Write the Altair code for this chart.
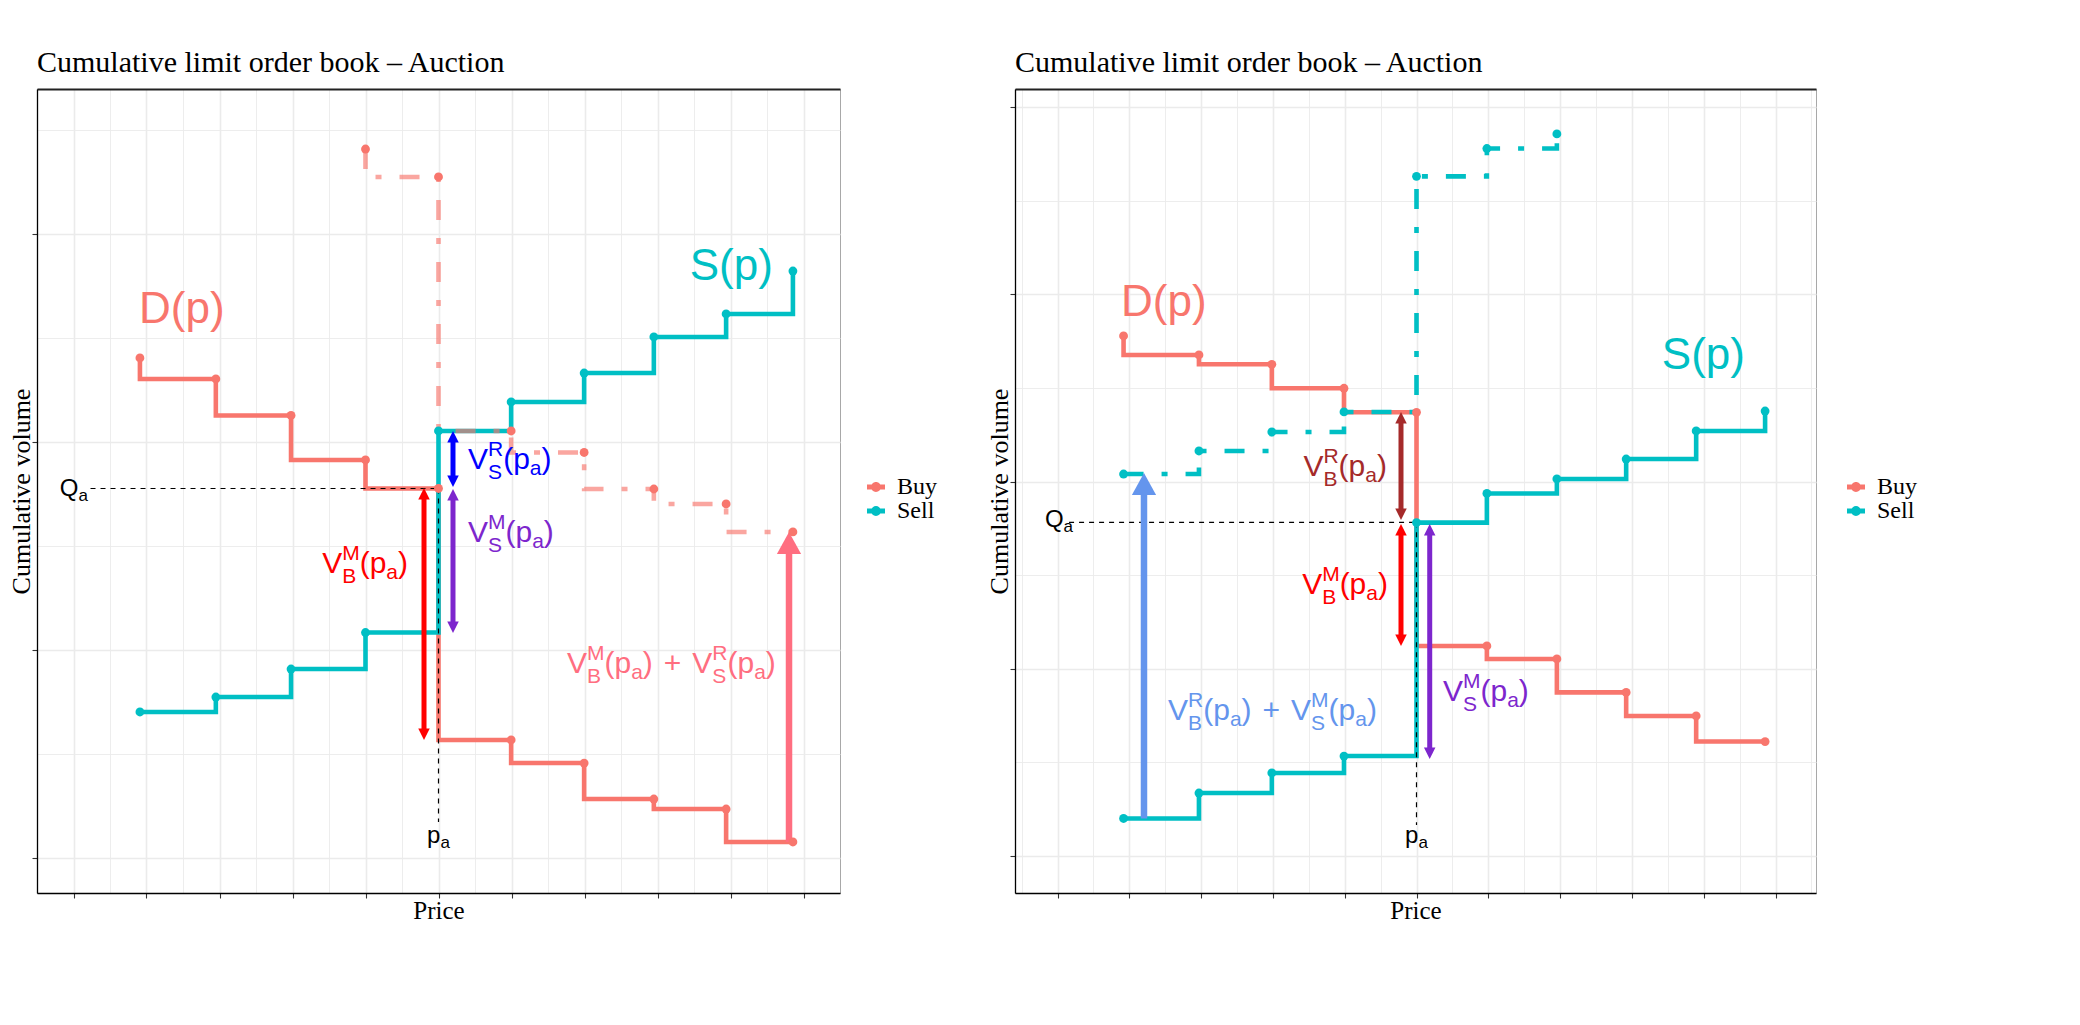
import altair as alt
import pandas as pd

SAL = "#F8766D"
TEAL = "#00BFC4"
SERIF = "Liberation Serif"
SANS = "Liberation Sans"

# ---------------- left panel data ----------------
L_PRICE = [2.82, 4.90, 6.96, 9.00, 11.00, 12.99, 14.99, 16.90, 18.88, 20.71]
L_BUY = [4.808, 4.606, 4.255, 3.827, 3.553, 1.135, 0.913, 0.567, 0.471, 0.154]
L_SELL = [1.404, 1.548, 1.817, 2.168, 4.106, 4.385, 4.663, 5.010, 5.231, 5.644]
L_DD_PRICE = [9.00, 11.00, 12.99, 14.99, 16.90, 18.88, 20.71]
L_DD = [6.817, 6.548, 4.106, 3.899, 3.548, 3.404, 3.135]
L_QA, L_PA = 3.553, 11.0
L_ARROW_X = [10.603, 11.397, 11.397, 20.603]
L_ARROW_FROM = [1.135, 3.567, 2.163, 0.154]
L_ARROW_TO = [3.558, 4.106, 3.548, 3.135]
L_ARROW_BOTH = [True, True, True, False]
L_ARROW_BIG = [False, False, False, True]
L_ARROW_COL = ["#FF0000", "#0000FF", "#7D26CD", "#FF6E80"]

# ---------------- right panel data ----------------
R_PRICE = [2.84, 4.94, 6.97, 8.98, 11.00, 12.96, 14.91, 16.84, 18.79, 20.71]
R_BUY = [5.556, 5.353, 5.253, 4.997, 4.740, 2.244, 2.105, 1.748, 1.496, 1.223]
R_SELL = [0.401, 0.673, 0.887, 1.068, 3.562, 3.873, 4.028, 4.241, 4.541, 4.754]
R_DD_PRICE = [2.84, 4.94, 6.97, 8.98, 11.00, 12.96, 14.91]
R_DD = [4.081, 4.327, 4.530, 4.744, 7.261, 7.558, 7.714]
R_QA, R_PA = 3.565, 11.0
R_ARROW_X = [10.568, 10.568, 11.368, 3.409]
R_ARROW_FROM = [3.590, 2.244, 1.036, 0.401]
R_ARROW_TO = [4.744, 3.547, 3.547, 4.092]
R_ARROW_BOTH = [True, True, True, False]
R_ARROW_BIG = [False, False, False, True]
R_ARROW_COL = ["#A52A2A", "#FF0000", "#7D26CD", "#6495ED"]

TITLE = "Cumulative limit order book \u2013 Auction"

VBM = [("b", "V"), ("ss", "M", "B"), ("b", "(p"), ("s", "a"), ("b", ")")]
VBR = [("b", "V"), ("ss", "R", "B"), ("b", "(p"), ("s", "a"), ("b", ")")]
VSM = [("b", "V"), ("ss", "M", "S"), ("b", "(p"), ("s", "a"), ("b", ")")]
VSR = [("b", "V"), ("ss", "R", "S"), ("b", "(p"), ("s", "a"), ("b", ")")]
PLUS = [("g", 11), ("b", "+"), ("g", 11)]

L_LABELS = [
    (2.795, 5.144, "left", SAL, [("b", "D(p)")], 44),
    (20.16, 5.558, "right", TEAL, [("b", "S(p)")], 44),
    (1.397, 3.481, "right", "black", [("b", "Q"), ("s", "a")], 24),
    (11.0, 0.144, "center", "black", [("b", "p"), ("s", "a")], 24),
    (10.164, 2.740, "right", "#FF0000", VBM, 30),
    (11.808, 3.740, "left", "#0000FF", VSR, 30),
    (11.808, 3.041, "left", "#7D26CD", VSM, 30),
    (14.52, 1.779, "left", "#FF6E80", VBM + PLUS + VSR, 30),
]
R_LABELS = [
    (2.769, 5.769, "left", SAL, [("b", "D(p)")], 44),
    (20.15, 5.203, "right", TEAL, [("b", "S(p)")], 44),
    (1.432, 3.515, "right", "black", [("b", "Q"), ("s", "a")], 24),
    (11.0, 0.139, "center", "black", [("b", "p"), ("s", "a")], 24),
    (10.177, 4.060, "right", "#A52A2A", VBR, 30),
    (10.205, 2.799, "right", "#FF0000", VBM, 30),
    (11.738, 1.656, "left", "#7D26CD", VSM, 30),
    (4.08, 1.453, "left", "#6495ED", VBR + PLUS + VSM, 30),
]

LEFT = dict(price=L_PRICE, buy=L_BUY, sell=L_SELL, dd_price=L_DD_PRICE, dd=L_DD,
            dd_side="Buy", dd_interp="step-before", dd_color=SAL, dd_opacity=0.65,
            qa=L_QA, pa=L_PA, qa_x0=1.466, pa_y0=0.346,
            ax=L_ARROW_X, af=L_ARROW_FROM, at=L_ARROW_TO, ab=L_ARROW_BOTH, abig=L_ARROW_BIG, ac=L_ARROW_COL,
            labels=L_LABELS, xdom=[0, 22], ydom=[-0.3365, 7.394], w=803, h=804,
            xgrid=list(range(1, 22)), ygrid=list(range(0, 8)), legx=827, legy=386)
RIGHT = dict(price=R_PRICE, buy=R_BUY, sell=R_SELL, dd_price=R_DD_PRICE, dd=R_DD,
             dd_side="Sell", dd_interp="step-after", dd_color=TEAL, dd_opacity=1.0,
             qa=R_QA, pa=R_PA, qa_x0=1.322, pa_y0=0.331,
             ax=R_ARROW_X, af=R_ARROW_FROM, at=R_ARROW_TO, ab=R_ARROW_BOTH, abig=R_ARROW_BIG, ac=R_ARROW_COL,
             labels=R_LABELS, xdom=[-0.184, 22.128], ydom=[-0.395, 8.194], w=801, h=804,
             xgrid=list(range(0, 23)), ygrid=list(range(0, 9)), legx=829, legy=386)

WID = {"V": .667, "M": .833, "B": .667, "S": .667, "R": .722, "(": .333, "p": .556,
       "a": .556, ")": .333, "+": .584, " ": .278, "Q": .778, "D": .722}


def tw(s, size):
    return sum(WID[c] for c in s) * size


def compose(parts, F):
    f = round(F * 0.7)
    frags, x = [], 0.0
    for p in parts:
        if p[0] == "b":
            frags.append((x, 0.0, p[1], F))
            x += tw(p[1], F)
        elif p[0] == "ss":
            frags.append((x, -0.44 * F, p[1], f))
            frags.append((x, 0.34 * F, p[2], f))
            x += max(tw(p[1], f), tw(p[2], f))
        elif p[0] == "g":
            x += p[1]
        else:
            frags.append((x, 0.2 * F, p[1], f))
            x += tw(p[1], f)
    return frags, x


UP_S = "M0,0 L0.5,1 L-0.5,1 Z"
DN_S = "M0,0 L0.5,-1 L-0.5,-1 Z"
UP_B = "M0,0 L0.55,1 L-0.55,1 Z"
DN_B = "M0,0 L0.55,-1 L-0.55,-1 Z"
LEG = ("M-1,-0.27 L1,-0.27 L1,0.27 L-1,0.27 Z "
       "M0.55,0 A0.55,0.55 0 1,1 -0.55,0 A0.55,0.55 0 1,1 0.55,0 Z")


def make_panel(P):
    xs = alt.Scale(domain=P["xdom"], nice=False, zero=False)
    ys = alt.Scale(domain=P["ydom"], nice=False, zero=False)
    ppx = P["w"] / (P["xdom"][1] - P["xdom"][0])
    ppy = P["h"] / (P["ydom"][1] - P["ydom"][0])

    def X(f="x", axis=None):
        return alt.X(f"{f}:Q", scale=xs, axis=axis)

    def Y(f="y", axis=None):
        return alt.Y(f"{f}:Q", scale=ys, axis=axis)

    xaxis = alt.Axis(
        orient="bottom", values=P["xgrid"], grid=True, gridColor="#EBEBEB",
        gridWidth={"condition": {"test": "datum.value % 2 === 1", "value": 1.6}, "value": 0.9},
        ticks=True, tickSize=5, tickWidth=1.1,
        tickColor={"condition": {"test": "datum.value % 2 === 1", "value": "#333333"}, "value": "transparent"},
        labels=False, domain=True, domainColor="black", domainWidth=1.3,
        title="Price", titleFont=SERIF, titleFontSize=25, titleFontWeight="normal",
        titleColor="black", titlePadding=0)
    topaxis = alt.Axis(orient="top", grid=False, ticks=False, labels=False, domain=True,
                       domainColor="#222222", domainWidth=2.2, title=None)
    yaxis = alt.Axis(
        orient="left", values=P["ygrid"], grid=True, gridColor="#EBEBEB",
        gridWidth={"condition": {"test": "datum.value % 2 === 0", "value": 1.6}, "value": 0.9},
        ticks=True, tickSize=5, tickWidth=1.1,
        tickColor={"condition": {"test": "datum.value % 2 === 0", "value": "#333333"}, "value": "transparent"},
        labels=False, domain=True, domainColor="black", domainWidth=1.3,
        title="Cumulative volume", titleFont=SERIF, titleFontSize=26, titleFontWeight="normal",
        titleColor="black", titlePadding=-3.5)

    buy = pd.DataFrame({"x": P["price"], "y": P["buy"]})
    sell = pd.DataFrame({"x": P["price"], "y": P["sell"]})
    dd = pd.DataFrame({"x": P["dd_price"], "y": P["dd"]})

    l_buy = alt.Chart(buy).mark_line(interpolate="step-before", color=SAL, strokeWidth=4.6).encode(
        x=X(axis=xaxis), y=Y(axis=yaxis))
    l_sell = alt.Chart(sell).mark_line(interpolate="step-after", color=TEAL, strokeWidth=4.6).encode(
        x=X(axis=topaxis), y=Y())
    l_dd = alt.Chart(dd).mark_line(interpolate=P["dd_interp"], color=P["dd_color"], opacity=P["dd_opacity"],
                                   strokeWidth=4.6, strokeDash=[20, 18, 6, 18], strokeCap="butt").encode(
        x=X(), y=Y())

    qa_h = pd.DataFrame({"x": [P["qa_x0"]], "x2": [P["pa"]], "y": [P["qa"]]})
    r_h = alt.Chart(qa_h).mark_rule(color="black", strokeWidth=1.2, strokeDash=[5, 5]).encode(
        x=X(), x2="x2:Q", y=Y())
    qa_v = pd.DataFrame({"x": [P["pa"]], "y": [P["qa"]], "y2": [P["pa_y0"]]})
    r_v = alt.Chart(qa_v).mark_rule(color="black", strokeWidth=1.2, strokeDash=[5, 5]).encode(
        x=X(), y=Y(), y2="y2:Q")

    shafts, heads = [], []
    for x, yf, yt, both, big, c in zip(P["ax"], P["af"], P["at"], P["ab"], P["abig"], P["ac"]):
        d = 1 if yt > yf else -1
        hl = 22 if big else 11.5
        size = (2 * hl) ** 2
        up, dn = (UP_B, DN_B) if big else (UP_S, DN_S)
        y_end = yt - d * hl * 0.5 / ppy
        y_start = yf + d * hl * 0.5 / ppy if both else yf
        shafts.append({"x": x, "y": y_start, "y2": y_end, "c": c, "sw": 6.5 if big else 5})
        heads.append({"x": x, "y": yt, "s": up if d > 0 else dn, "c": c, "z": size})
        if both:
            heads.append({"x": x, "y": yf, "s": dn if d > 0 else up, "c": c, "z": size})
    sh = alt.Chart(pd.DataFrame(shafts)).mark_rule(strokeCap="butt").encode(
        x=X(), y=Y(), y2="y2:Q", stroke=alt.Stroke("c:N", scale=None),
        strokeWidth=alt.StrokeWidth("sw:Q", scale=None))
    hd = alt.Chart(pd.DataFrame(heads)).mark_point(filled=True, opacity=1, strokeWidth=0).encode(
        x=X(), y=Y(), shape=alt.Shape("s:N", scale=None), fill=alt.Fill("c:N", scale=None),
        size=alt.Size("z:Q", scale=None))

    pts = pd.concat([
        buy.assign(side="Buy"), sell.assign(side="Sell"), dd.assign(side=P["dd_side"])
    ], ignore_index=True)
    pt = alt.Chart(pts).mark_circle(size=78, opacity=1).encode(
        x=X(), y=Y(),
        color=alt.Color("side:N", scale=alt.Scale(domain=["Buy", "Sell"], range=[SAL, TEAL]),
                        legend=alt.Legend(title=None, orient="none", legendX=P["legx"], legendY=P["legy"],
                                          symbolType=LEG, symbolSize=324, symbolStrokeWidth=0,
                                          labelFont=SERIF, labelFontSize=24, labelColor="black",
                                          labelOffset=9, rowPadding=0, padding=0)))

    rows = []
    for lx, ly, align, col, parts, F in P["labels"]:
        frags, W = compose(parts, F)
        off = 0 if align == "left" else (-W if align == "right" else -W / 2)
        for dx, dy, t, fs in frags:
            rows.append({"x": lx + (off + dx) / ppx, "y": ly - dy / ppy, "t": t, "fs": fs, "c": col})
    tx = alt.Chart(pd.DataFrame(rows)).mark_text(align="left", baseline="alphabetic", font=SANS).encode(
        x=X(), y=Y(), text="t:N", size=alt.Size("fs:Q", scale=None), fill=alt.Fill("c:N", scale=None))

    return alt.layer(l_buy, l_sell, l_dd, r_h, r_v, sh, hd, pt, tx).resolve_axis(
        x="independent", y="independent").properties(
        width=P["w"], height=P["h"],
        title=alt.TitleParams(TITLE, anchor="start", frame="group", font=SERIF, fontSize=30,
                              fontWeight="normal", color="black", offset=11))


chart = alt.hconcat(make_panel(LEFT), make_panel(RIGHT), spacing=47).resolve_scale(
    x="independent", y="independent", color="independent").resolve_legend(color="independent").configure_view(
    stroke="#A8A8A8", strokeWidth=1).properties(padding={"left": 0, "top": 39, "right": 5, "bottom": 5})

chart.save("out.html", embed_options={"renderer": "svg", "actions": False})
